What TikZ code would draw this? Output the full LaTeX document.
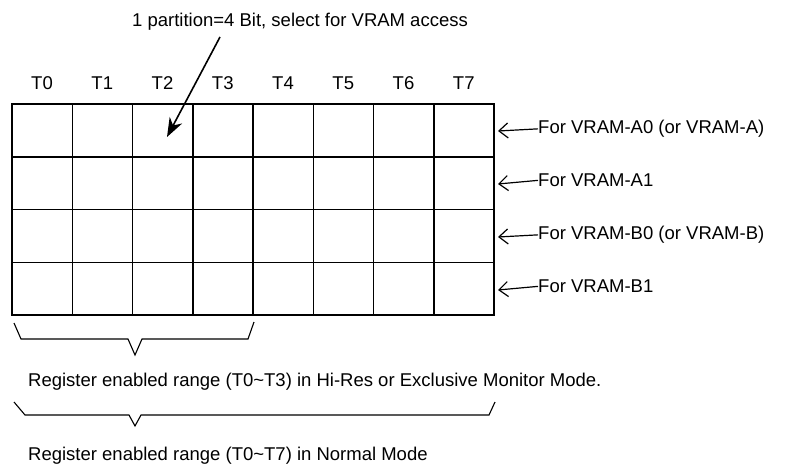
\documentclass[tikz,border=0pt]{standalone}
\usepackage{fontspec}
\setmainfont{Liberation Sans}
\usetikzlibrary{arrows.meta}

\begin{document}
\begin{tikzpicture}[x=1pt, y=-1pt,
  lbl/.style={font=\fontsize{18.5}{20}\selectfont, inner sep=0pt},
  cell/.style={line width=1.5pt},
  ptr/.style={line width=1.6pt, -{Stealth[length=19pt, width=14pt, inset=6pt]}},
  tag/.style={line width=1.2pt, -{Straight Barb[length=9pt, width=15pt]}},
  brace/.style={line width=1.1pt, line join=miter}
]
  \useasboundingbox (0,0) rectangle (799,474);

  \draw[cell] (12,104) rectangle (494,315);
  \foreach \i in {1,...,7}
    \draw[cell] ({12+\i*60.25},104) -- ({12+\i*60.25},315);
  \foreach \j in {1,2,3}
    \draw[cell] (12,{104+\j*52.75}) -- (494,{104+\j*52.75});
  \foreach \i in {0,...,7}
    \node[lbl, anchor=base] (t\i) at ({42+\i*60.25},89) {T\i};

  \node[lbl, anchor=base] (part) at (300,26) {1 partition=4 Bit, select for VRAM access};
  \coordinate (from) at (220,37);
  \coordinate (tip) at (167,137);
  \draw[ptr] (from) -- (tip);

  \foreach \name/\txt [count=\k from 0] in {a0/{For VRAM-A0 (or VRAM-A)}, a1/{For VRAM-A1},
      b0/{For VRAM-B0 (or VRAM-B)}, b1/{For VRAM-B1}} {
    \node[lbl, anchor=mid west] (\name) at (538,{131+\k*53}) {\txt};
    \coordinate (e\name) at (498,{131+\k*53});
    \draw[tag] (\name.west) -- (e\name);
  }

  \draw[brace] (14,323) -- (21,339) -- (128,339) -- (135,355) -- (142,339) -- (248,339) -- (254,322);
  \node[lbl, anchor=base west] (hires) at (28,386)
    {Register enabled range (T0\textasciitilde T3) in Hi-Res or Exclusive Monitor Mode.};

  \draw[brace] (14,402) -- (25,415) -- (129,415) -- (135,426) -- (141,415) -- (489,415) -- (495,402);
  \node[lbl, anchor=base west] (normal) at (28,460)
    {Register enabled range (T0\textasciitilde T7) in Normal Mode};
\end{tikzpicture}
\end{document}
